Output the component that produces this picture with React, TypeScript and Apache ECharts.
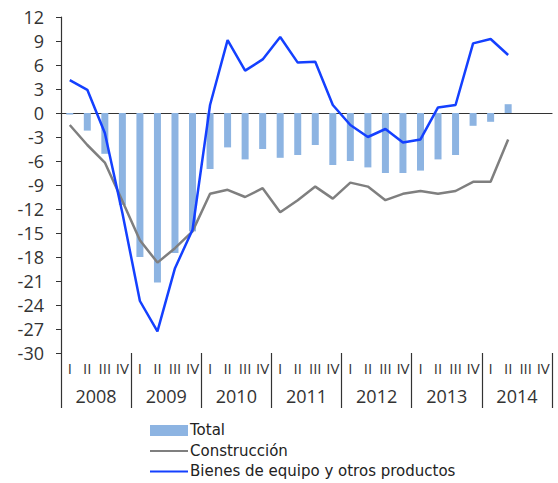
import React, { useEffect, useRef } from "react";
import * as echarts from "echarts";

const quarters = [
  "I", "II", "III", "IV", "I", "II", "III", "IV", "I", "II", "III", "IV",
  "I", "II", "III", "IV", "I", "II", "III", "IV", "I", "II", "III", "IV",
  "I", "II", "III", "IV",
];
const years = ["2008", "2009", "2010", "2011", "2012", "2013", "2014"];

const total = [
  -0.2, -2.2, -5.1, -11.5, -18.0, -21.2, -17.5, -14.8, -7.0, -4.3, -5.8, -4.5,
  -5.6, -5.25, -4.0, -6.5, -6.0, -6.8, -7.5, -7.5, -7.2, -5.8, -5.25, -1.6, -1.1, 1.1,
];
const construccion = [
  -1.5, -4.0, -6.2, -11.0, -15.9, -18.7, -16.9, -14.8, -10.1, -9.6, -10.5, -9.4,
  -12.4, -10.9, -9.2, -10.7, -8.7, -9.2, -10.9, -10.1, -9.75, -10.1, -9.75, -8.6, -8.6, -3.3,
];
const bienes = [
  4.1, 2.9, -2.5, -12.5, -23.5, -27.3, -19.4, -14.6, 1.0, 9.1, 5.3, 6.7,
  9.5, 6.3, 6.4, 1.0, -1.5, -3.0, -2.0, -3.7, -3.3, 0.7, 1.0, 8.7, 9.25, 7.25,
];

const seriesNames = ["Total", "Construcción", "Bienes de equipo y otros productos"];
const FONT = "Open Sans";
const LEGEND_FONT = "DejaVu Sans";
const BAR_COLOR = "#8DB4E2";
const GRAY = "#7F7F7F";
const BLUE = "#1440FF";

export default function App() {
  const ref = useRef<HTMLDivElement>(null);
  useEffect(() => {
    if (!ref.current) return;
    const chart = echarts.init(ref.current, undefined, { renderer: "svg" });
    const legendText = (text: string, y: number) => ({
      type: "text",
      x: 190,
      y,
      style: {
        text,
        fontSize: 15,
        lineHeight: 17,
        fill: "#222",
        fontFamily: LEGEND_FONT,
        verticalAlign: "middle",
        align: "left",
      },
    });
    chart.setOption({
      animation: false,
      backgroundColor: "#fff",
      textStyle: { fontFamily: FONT },
      grid: { left: 61, top: 17, width: 491, height: 336 },
      graphic: [
        { type: "rect", shape: { x: 150, y: 425, width: 38, height: 11 }, style: { fill: BAR_COLOR } },
        legendText(seriesNames[0], 430),
        { type: "line", shape: { x1: 150, y1: 451, x2: 188, y2: 451 }, style: { stroke: GRAY, lineWidth: 2.2 } },
        legendText(seriesNames[1], 450.5),
        { type: "line", shape: { x1: 150, y1: 471.5, x2: 188, y2: 471.5 }, style: { stroke: BLUE, lineWidth: 2.2 } },
        legendText(seriesNames[2], 471),
      ],
      xAxis: [
        {
          type: "category",
          data: quarters,
          boundaryGap: true,
          position: "bottom",
          axisLine: { show: true, lineStyle: { color: "#333", width: 1.2 } },
          axisTick: { show: false },
          axisLabel: { interval: 0, fontSize: 15, color: "#333", margin: 7, fontFamily: FONT },
        },
        {
          type: "category",
          data: years,
          boundaryGap: true,
          position: "bottom",
          offset: 0,
          axisLine: { show: false },
          axisTick: { show: true, length: 55, interval: 0, lineStyle: { color: "#333", width: 1.2 } },
          axisLabel: { interval: 0, fontSize: 18, color: "#333", margin: 34, fontFamily: FONT },
        },
      ],
      yAxis: {
        type: "value",
        min: -30,
        max: 12,
        interval: 3,
        splitLine: { show: false },
        axisLine: { show: true, lineStyle: { color: "#333", width: 1.2 } },
        axisTick: { show: true, length: 5, lineStyle: { color: "#333" } },
        axisLabel: { fontSize: 18, color: "#333", margin: 17, fontFamily: FONT },
      },
      series: [
        {
          name: seriesNames[0],
          type: "bar",
          xAxisIndex: 0,
          data: total,
          barWidth: 7,
          itemStyle: { color: BAR_COLOR },
        },
        {
          name: seriesNames[1],
          type: "line",
          xAxisIndex: 0,
          data: construccion,
          symbol: "none",
          lineStyle: { color: GRAY, width: 2.5 },
          itemStyle: { color: GRAY },
        },
        {
          name: seriesNames[2],
          type: "line",
          xAxisIndex: 0,
          data: bienes,
          symbol: "none",
          lineStyle: { color: BLUE, width: 2.5 },
          itemStyle: { color: BLUE },
        },
      ],
    });
    return () => chart.dispose();
  }, []);
  return (
    <div
      ref={ref}
      style={{ position: "fixed", left: 0, top: 0, width: 558, height: 483, background: "#fff" }}
    />
  );
}
